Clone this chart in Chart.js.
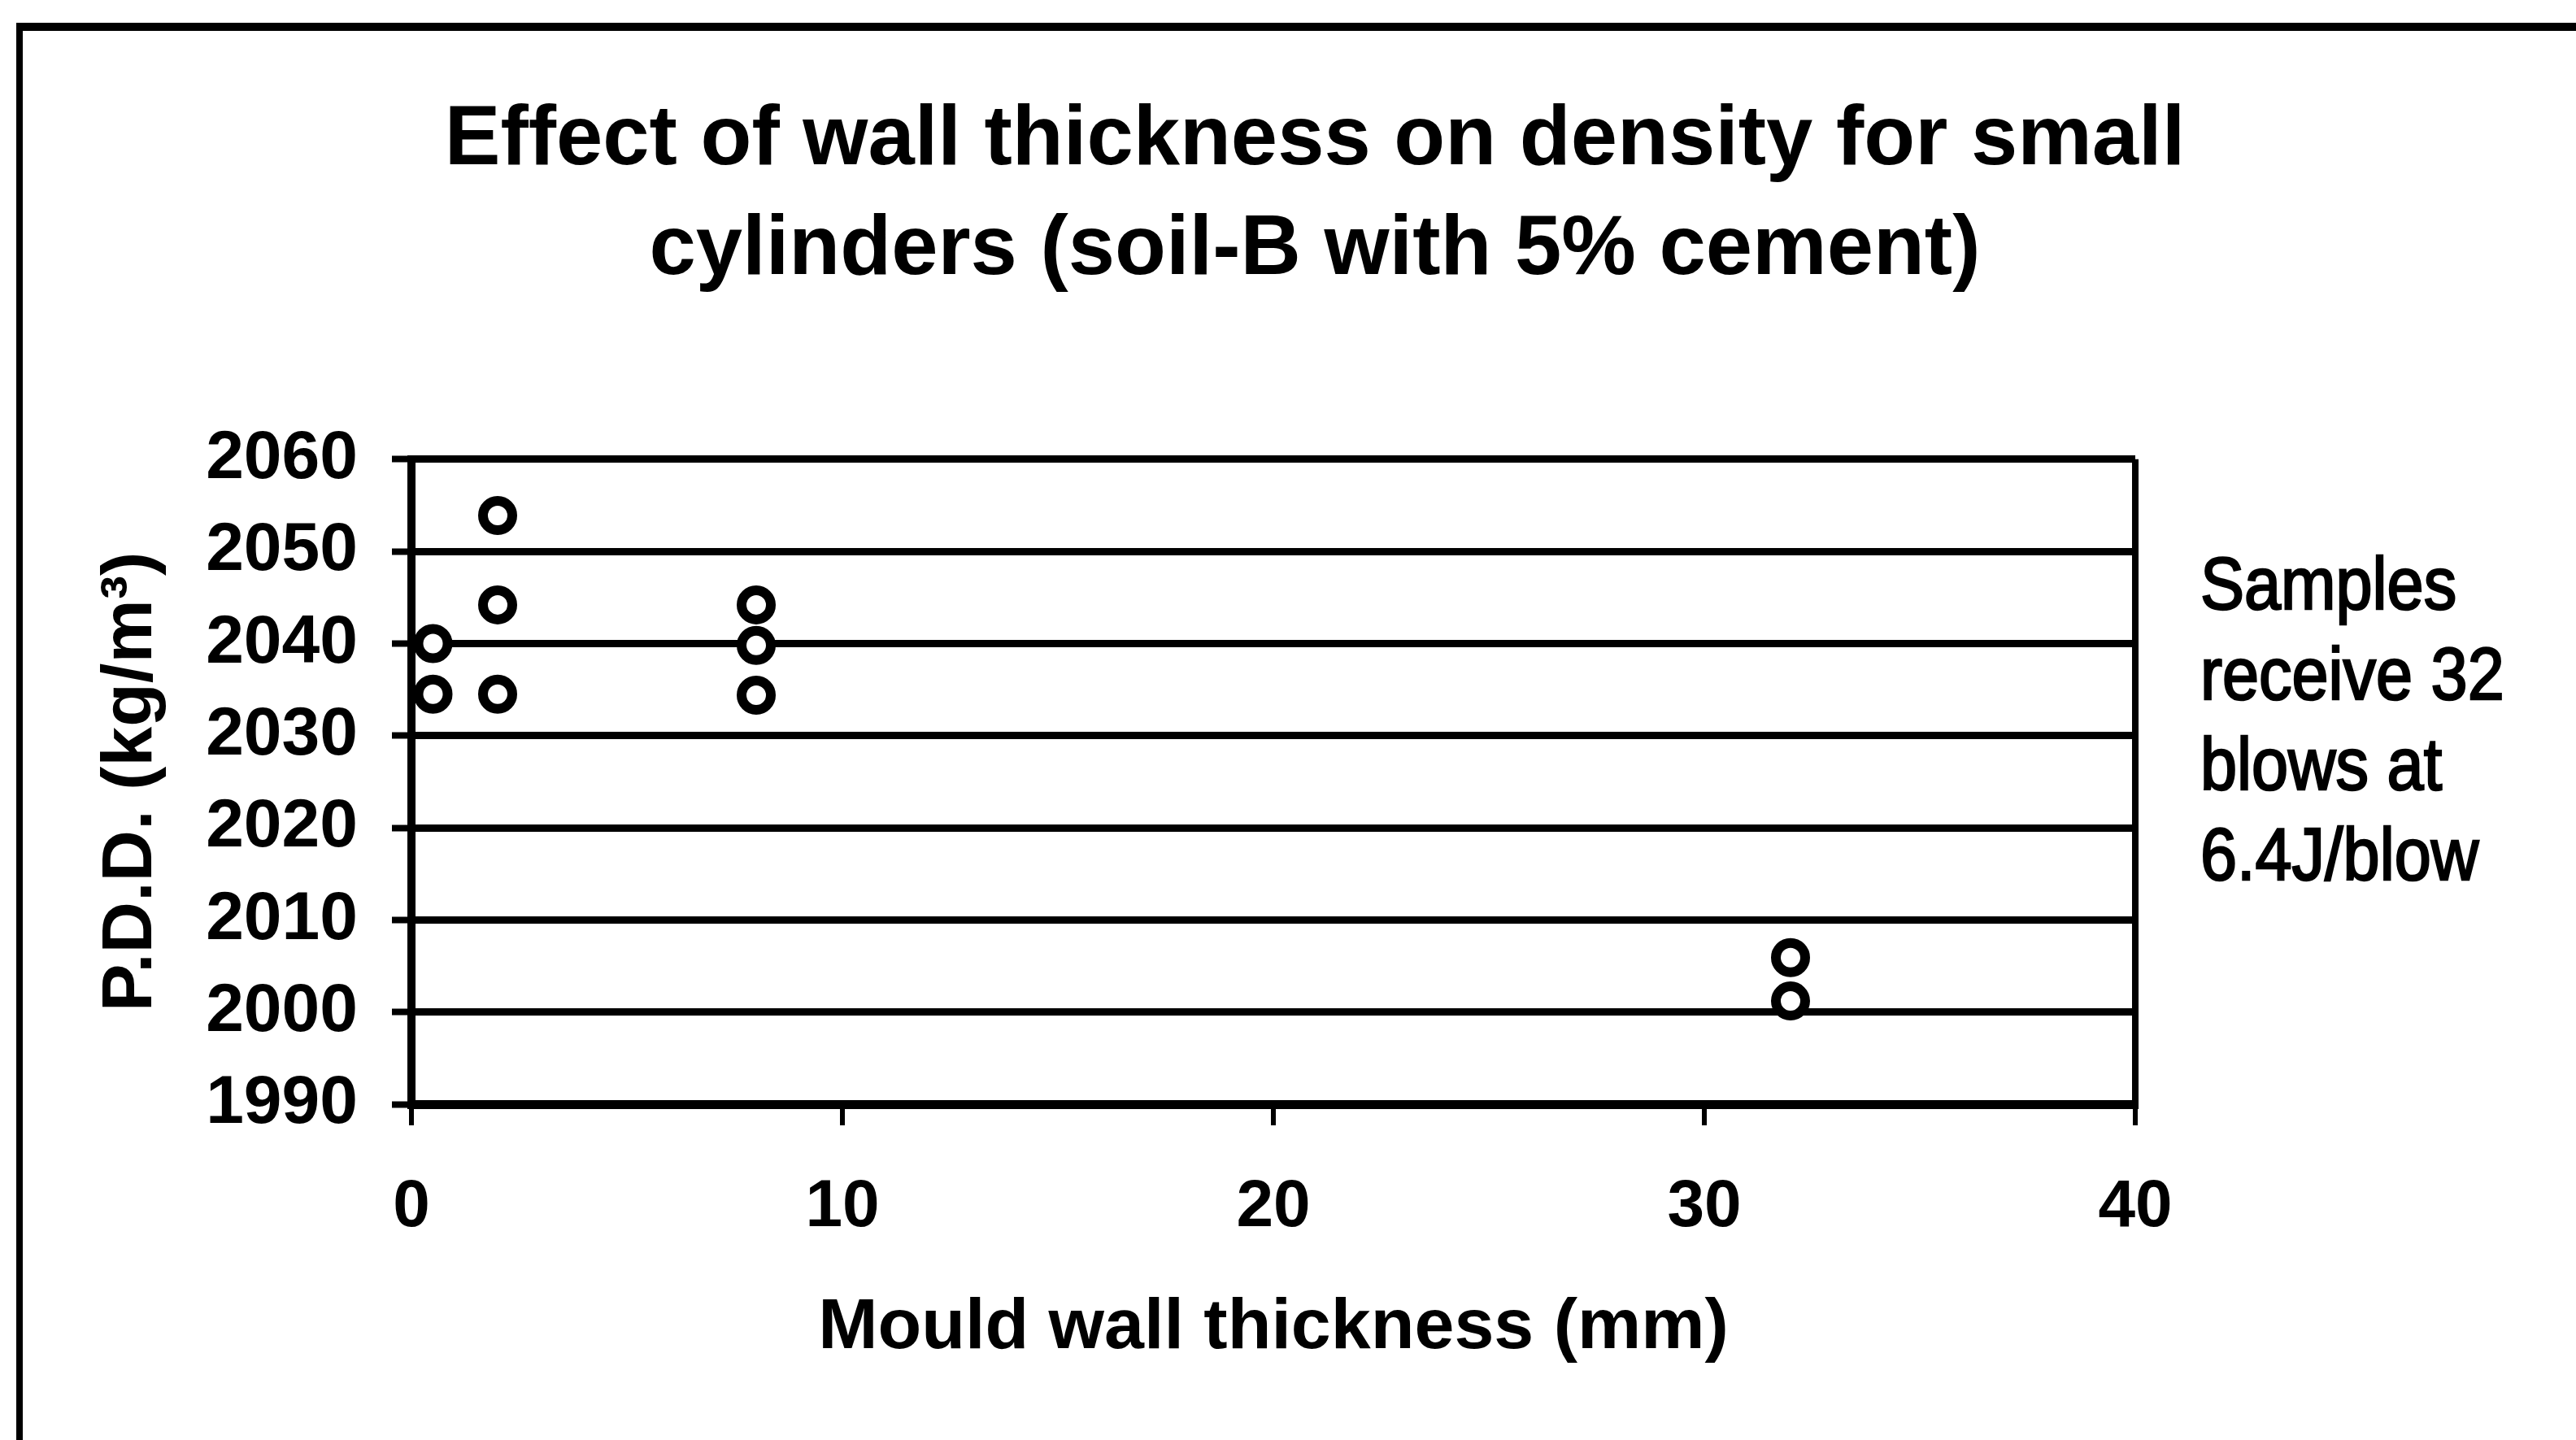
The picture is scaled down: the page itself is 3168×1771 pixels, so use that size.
<!DOCTYPE html>
<html><head><meta charset="utf-8">
<script src="https://cdn.jsdelivr.net/npm/chart.js@4.4.0/dist/chart.umd.min.js"></script>
<style>
html,body{margin:0;padding:0;background:#fff;}
body{width:3168px;height:1771px;position:relative;overflow:hidden;}
#c{position:absolute;left:0;top:0;}
#frame{position:absolute;left:20px;top:28px;right:-40px;bottom:-40px;border-left:8px solid #000;border-top:10px solid #000;pointer-events:none;}
#note{position:absolute;left:2706px;top:663px;font-family:"Liberation Sans",Arial,sans-serif;font-size:90px;line-height:111px;color:#000;white-space:pre;transform:scaleX(0.9);transform-origin:0 0;-webkit-text-stroke:2.5px #000;}
</style></head><body>
<canvas id="c" width="3168" height="1771"></canvas>
<div id="frame"></div>
<div id="note"></div>
<script>
const thickness = [0.5, 0.5, 2, 2, 2, 8, 8, 8, 32, 32];
const density = [2040, 2034.5, 2053.9, 2044.2, 2034.5, 2044.2, 2039.8, 2034.4, 2005.9, 2001.2];
const xTickValues = [0, 10, 20, 30, 40];
const yTickValues = [1990, 2000, 2010, 2020, 2030, 2040, 2050, 2060];
const titleLines = ['Effect of wall thickness on density for small', 'cylinders (soil-B with 5% cement)'];
const xTitle = 'Mould wall thickness (mm)';
const yTitle = 'P.D.D. (kg/m³)';
const noteLines = ['Samples', 'receive 32', 'blows at', '6.4J/blow'];

document.getElementById('note').textContent = noteLines.join('\n');

const FONT = '"Liberation Sans", Arial, sans-serif';
Chart.defaults.font.family = FONT;
Chart.defaults.color = '#000';

new Chart(document.getElementById('c'), {
  type: 'scatter',
  data: {
    datasets: [{
      data: thickness.map((x, i) => ({ x: x, y: density[i] })),
      pointStyle: 'circle',
      pointRadius: 18,
      pointBorderWidth: 12,
      pointBackgroundColor: '#fff',
      pointBorderColor: '#000',
      clip: false,
      showLine: false
    }]
  },
  options: {
    responsive: false,
    animation: false,
    devicePixelRatio: 1,
    layout: { padding: { left: 66, right: 0, top: 0, bottom: 0 } },
    plugins: {
      legend: { display: false },
      tooltip: { enabled: false },
      title: {
        display: true, text: titleLines, color: '#000',
        font: { size: 103, weight: 'bold', lineHeight: 1.31 },
        padding: { top: 106, bottom: 189 }
      }
    },
    scales: {
      x: {
        type: 'linear', min: 0, max: 40,
        afterBuildTicks: s => { s.ticks = xTickValues.map(v => ({ value: v })); },
        afterFit: s => { s.height = 413; },
        grid: {
          drawOnChartArea: true,
          color: c => (c.tick && (c.tick.value === 0 || c.tick.value === 40)) ? '#000' : 'rgba(0,0,0,0)',
          lineWidth: 8, tickLength: 26, tickColor: '#000', tickWidth: 6
        },
        border: { display: true, color: '#000', width: 11 },
        ticks: { font: { size: 82, weight: 'bold' }, padding: 52, color: '#000', callback: v => String(v) },
        title: { display: true, text: xTitle, color: '#000', font: { size: 88, weight: 'bold' }, padding: { top: 0, bottom: 84 } }
      },
      y: {
        type: 'linear', min: 1990, max: 2060,
        afterBuildTicks: s => { s.ticks = yTickValues.map(v => ({ value: v })); },
        afterFit: s => { s.width = 440; },
        grid: { color: '#000', lineWidth: 9, tickLength: 24, tickColor: '#000', tickWidth: 8 },
        border: { display: true, color: '#000', width: 10 },
        ticks: { font: { size: 84, weight: 'bold' }, padding: 42, color: '#000', callback: v => String(v) },
        title: { display: true, text: yTitle, color: '#000', font: { size: 88, weight: 'bold' }, padding: { top: 43, bottom: 0 } }
      },
      y2: {
        type: 'linear', position: 'right', display: true,
        afterFit: s => { s.width = 542; },
        grid: { display: false }, border: { display: false }, ticks: { display: false }
      }
    }
  }
});
</script>
</body></html>
